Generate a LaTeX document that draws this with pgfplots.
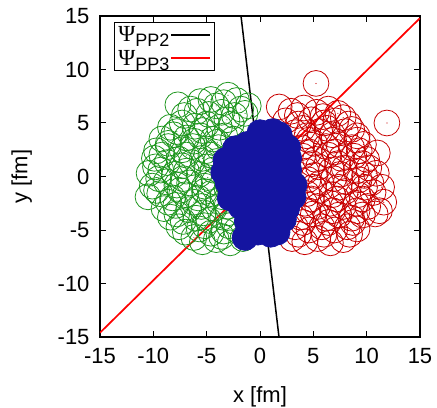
\documentclass[border=0pt]{standalone}
\usepackage{pgfplots}
\pgfplotsset{compat=1.18}
\usepackage{fontspec}
\setmainfont{Liberation Sans}
\newfontfamily\psifont{Liberation Serif}
\definecolor{gcol}{RGB}{30,150,30}
\definecolor{rcol}{RGB}{200,0,0}
\definecolor{bcol}{RGB}{20,20,160}
\pgfdeclareplotmark{ringdot}{%
  \pgfpathcircle{\pgfpointorigin}{\pgfplotmarksize}\pgfusepathqstroke
  \pgfpathcircle{\pgfpointorigin}{0.6bp}\pgfusepathqfill}
\newcommand{\psientry}[1]{{\fontsize{23bp}{24bp}\psifont Ψ}\raisebox{-5bp}{\fontsize{18bp}{20bp}\selectfont #1}}
\begin{document}
\begin{tikzpicture}
\begin{axis}[
  scale only axis, width=320bp, height=321bp,
  xmin=-15, xmax=15, ymin=-15, ymax=15,
  xtick={-15,-10,-5,0,5,10,15}, ytick={-15,-10,-5,0,5,10,15},
  xticklabels={-15,-10,-5,0,5,10,15}, yticklabels={-15,-10,-5,0,5,10,15},
  tick align=inside, major tick length=6bp,
  axis line style={line width=1.2bp},
  every tick/.style={black, line width=1bp},
  tick label style={font=\fontsize{22bp}{26bp}\selectfont},
  xticklabel style={yshift=-8bp}, yticklabel style={xshift=-7bp},
  label style={font=\fontsize{22bp}{26bp}\selectfont},
  xlabel={x [fm]}, ylabel={y [fm]},
  xlabel style={at={(axis description cs:0.5,-0.185)}, anchor=center},
  ylabel style={at={(axis description cs:-0.245,0.5)}, anchor=center},
  legend style={at={(axis description cs:0.044,0.981)}, anchor=north west,
    draw=black, line width=0.8bp, inner sep=3bp, row sep=5bp,
    nodes={inner sep=1bp}},
  legend cell align=left, legend plot pos=right,
  legend image code/.code={\draw[#1] (0bp,0bp) -- (26bp,0bp); \path (0bp,0bp) -- (39bp,0bp);},
]
% green spectators
\addplot[only marks, mark=ringdot, mark size=12.9bp, gcol, line width=0.8bp, forget plot] table {
x y
-4.6 7.2
-3.4 6.9
-2.2 7.1
-1.1 6.6
-7.7 6.7
-3.0 7.6
-5.6 7.0
-7.1 5.7
-5.9 6.1
-4.8 5.8
-3.6 6.0
-2.4 5.7
-1.4 5.9
-8.4 4.6
-7.3 5.0
-6.1 4.7
-5.0 4.9
-3.8 4.6
-2.7 4.9
-9.2 3.5
-8.1 3.9
-6.9 3.6
-5.6 3.8
-4.4 3.5
-3.3 3.8
-9.7 2.4
-8.6 2.8
-7.3 2.5
-6.3 2.8
-5.1 2.4
-3.9 2.7
-9.9 1.7
-8.7 1.3
-7.6 1.6
-6.4 1.3
-5.4 1.7
-4.1 1.4
-10.4 0.3
-9.3 0.6
-8.0 0.2
-6.9 0.5
-5.7 0.2
-4.4 0.6
-10.1 -0.9
-8.8 -0.5
-7.8 -0.8
-6.6 -0.6
-5.2 -0.9
-4.3 -0.5
-10.5 -1.9
-9.4 -1.6
-8.2 -2.0
-7.0 -1.7
-5.8 -2.0
-4.6 -1.6
-3.5 -1.9
-9.0 -3.0
-7.9 -2.7
-6.7 -3.1
-5.5 -2.8
-4.3 -3.0
-3.1 -2.8
-8.4 -3.8
-7.2 -4.2
-6.0 -3.9
-4.8 -4.1
-3.5 -3.8
-2.4 -4.2
-7.0 -5.2
-5.7 -4.9
-4.6 -5.3
-3.4 -5.1
-2.2 -5.0
-5.4 -6.1
-4.1 -5.9
-2.8 -6.2
-1.6 -5.8
-6.5 6.3
-4.1 6.6
-1.8 6.3
-7.8 4.2
-5.4 4.3
-3.1 5.3
-8.6 3.1
-6.2 3.3
-4.0 3.2
-9.2 2.0
-6.9 2.0
-4.6 2.0
-9.8 0.9
-7.3 1.0
-5.0 0.9
-9.5 -0.2
-7.2 -0.2
-4.9 -0.1
-9.7 -1.3
-7.5 -1.3
-5.2 -1.4
-8.6 -2.4
-6.2 -2.4
-3.9 -2.3
-7.8 -3.5
-5.3 -3.4
-3.0 -3.4
-7.6 -4.7
-5.2 -4.6
-2.9 -4.6
-6.2 -5.7
-3.6 -5.6
-2.5 3.5
-2.8 1.9
-3.0 0.3
-3.1 -1.1
};
% red spectators
\addplot[only marks, mark=ringdot, mark size=12.9bp, rcol, line width=0.8bp, forget plot] table {
x y
1.8 6.5
2.9 6.1
4.1 6.4
5.3 6.0
6.4 6.3
7.3 5.9
2.4 5.2
3.6 4.9
4.8 5.3
6.0 5.0
7.1 5.2
8.3 4.9
3.3 4.1
4.4 3.8
5.6 4.2
6.8 3.9
8.0 4.2
9.1 3.8
3.9 2.7
5.1 3.1
6.2 2.8
7.4 3.0
8.6 2.7
9.7 3.0
4.0 1.9
5.2 1.6
6.4 2.0
7.6 1.7
8.8 1.9
10.0 1.6
4.3 0.5
5.5 0.9
6.7 0.6
7.9 0.8
9.0 0.5
10.2 0.8
4.5 -0.3
5.7 -0.6
6.9 -0.2
8.1 -0.5
9.3 -0.3
10.4 -0.6
4.4 -1.6
5.6 -1.3
6.8 -1.7
8.0 -1.4
9.2 -1.7
10.6 -1.5
4.2 -2.5
5.4 -2.8
6.6 -2.5
7.8 -2.8
9.0 -2.5
10.1 -2.8
3.8 -3.8
5.0 -3.5
6.2 -3.9
7.4 -3.6
8.6 -3.9
9.6 -3.6
3.3 -4.7
4.6 -5.0
5.8 -4.7
7.0 -5.0
8.2 -4.7
9.1 -4.9
3.0 -5.8
4.2 -6.1
5.4 -5.8
6.6 -6.2
7.8 -5.9
5.25 8.7
11.9 5.0
3.5 5.7
5.9 5.6
7.8 5.5
4.0 4.5
6.3 4.5
8.6 4.4
4.6 3.4
6.9 3.4
9.1 3.4
4.6 2.3
7.0 2.3
9.3 2.4
4.9 1.2
7.3 1.2
9.6 1.2
5.1 0.1
7.5 0.2
9.8 0.1
5.0 -1.0
7.4 -1.0
9.8 -1.0
4.8 -2.1
7.2 -2.1
9.6 -2.1
4.5 -3.2
6.8 -3.2
9.1 -3.2
4.0 -4.3
6.4 -4.3
8.7 -4.3
3.6 -5.4
6.0 -5.4
8.4 -5.4
10.8 -3.5
10.9 0.3
11.4 -1.0
11.6 -2.4
11.2 -3.2
11.0 2.2
};
% reaction planes
\addplot[black, line width=1.5bp] coordinates {(-1.78,15) (1.78,-15)};
\addlegendentry{\psientry{PP2}}
\addplot[red, line width=1.7bp] coordinates {(-15,-14.6) (15,14.8)};
\addlegendentry{\psientry{PP3}}
% participants
\addplot[only marks, mark=*, mark size=12.9bp, bcol, fill=bcol, line width=0.8bp, forget plot] table {
x y
0.0 4.1
1.2 4.2
1.8 3.9
-2.3 2.6
-1.2 3.0
0.0 3.0
1.2 3.1
2.6 2.7
-3.2 1.5
-2.0 1.9
-0.8 1.8
0.4 1.9
1.6 1.8
2.7 1.7
-3.4 0.4
-2.2 0.6
-1.0 0.6
0.2 0.6
1.4 0.6
2.7 0.6
-3.0 -0.6
-1.8 -0.5
-0.6 -0.6
0.6 -0.6
1.8 -0.6
3.2 -0.8
-2.8 -2.0
-1.6 -1.8
-0.4 -1.8
0.8 -1.8
2.0 -1.8
3.1 -1.9
-1.8 -2.8
-0.6 -3.0
0.6 -3.0
1.8 -3.0
2.5 -3.0
-1.2 -4.2
0.0 -4.2
1.2 -4.2
2.2 -4.0
-1.4 -5.7
-0.2 -5.2
1.0 -5.4
1.6 -5.2
};
\end{axis}
\pgfresetboundingbox
\path ([shift={(-100bp,-71bp)}]current axis.south west) rectangle ([shift={(17bp,16bp)}]current axis.north east);
\end{tikzpicture}
\end{document}
